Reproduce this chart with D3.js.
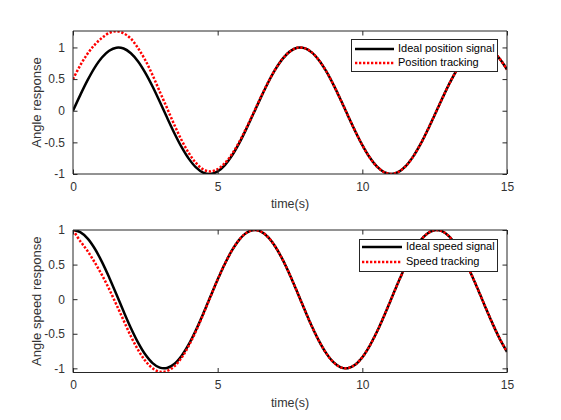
<!DOCTYPE html>
<html>
<head>
<meta charset="utf-8">
<script src="https://cdn.jsdelivr.net/npm/d3@7"></script>
<style>
html,body{margin:0;padding:0;background:#fff;}
svg{display:block;font-family:"Liberation Sans",Arial,sans-serif;}
</style>
</head>
<body>
<svg id="chart" width="561" height="420"></svg>
<script>
// time samples (s)
const time = [0,0.25,0.5,0.75,1,1.25,1.5,1.75,2,2.25,2.5,2.75,3,3.25,3.5,3.75,4,4.25,4.5,4.75,5,5.25,5.5,5.75,6,6.25,6.5,6.75,7,7.25,7.5,7.75,8,8.25,8.5,8.75,9,9.25,9.5,9.75,10,10.25,10.5,10.75,11,11.25,11.5,11.75,12,12.25,12.5,12.75,13,13.25,13.5,13.75,14,14.25,14.5,14.75,15];

// top panel: ideal position signal and position tracking
const idealPosition = [0,0.247,0.479,0.682,0.841,0.949,0.997,0.984,0.909,0.778,0.598,0.382,0.141,-0.108,-0.351,-0.572,-0.757,-0.895,-0.978,-0.999,-0.959,-0.859,-0.706,-0.509,-0.279,-0.033,0.215,0.450,0.657,0.823,0.938,0.995,0.989,0.922,0.798,0.625,0.412,0.174,-0.075,-0.319,-0.544,-0.736,-0.880,-0.970,-1.000,-0.967,-0.875,-0.729,-0.537,-0.311,-0.066,0.182,0.420,0.632,0.804,0.927,0.991,0.991,0.935,0.819,0.650];
const positionTracking = [0.50,0.717,0.899,1.042,1.151,1.229,1.257,1.224,1.139,0.988,0.798,0.562,0.301,0.042,-0.221,-0.462,-0.667,-0.825,-0.928,-0.959,-0.924,-0.829,-0.681,-0.489,-0.264,-0.023,0.223,0.455,0.660,0.823,0.938,0.995,0.989,0.922,0.798,0.625,0.412,0.174,-0.075,-0.319,-0.544,-0.736,-0.880,-0.970,-1.000,-0.967,-0.875,-0.729,-0.537,-0.311,-0.066,0.182,0.420,0.632,0.804,0.927,0.991,0.991,0.935,0.819,0.650];

// bottom panel: ideal speed signal and speed tracking
const idealSpeed = [1,0.969,0.878,0.732,0.540,0.315,0.071,-0.178,-0.416,-0.628,-0.801,-0.924,-0.990,-0.994,-0.936,-0.820,-0.654,-0.446,-0.211,0.038,0.284,0.512,0.709,0.861,0.960,0.999,0.977,0.893,0.754,0.568,0.347,0.103,-0.146,-0.388,-0.602,-0.780,-0.911,-0.985,-0.997,-0.948,-0.839,-0.677,-0.475,-0.243,0.004,0.252,0.484,0.684,0.844,0.950,0.998,0.983,0.907,0.775,0.595,0.376,0.137,-0.112,-0.353,-0.574,-0.760];
const speedTracking = [1.00,0.839,0.698,0.532,0.350,0.145,-0.079,-0.308,-0.536,-0.733,-0.891,-0.999,-1.050,-1.039,-0.971,-0.848,-0.674,-0.461,-0.221,0.033,0.284,0.512,0.709,0.861,0.960,0.999,0.977,0.893,0.754,0.568,0.347,0.103,-0.146,-0.388,-0.602,-0.780,-0.911,-0.985,-0.997,-0.948,-0.839,-0.677,-0.475,-0.243,0.004,0.252,0.484,0.684,0.844,0.950,0.998,0.983,0.907,0.775,0.595,0.376,0.137,-0.112,-0.353,-0.574,-0.760];

const xTicks = [0,5,10,15];
const yTicks = [-1,-0.5,0,0.5,1];
const yTickLabels = ["-1","-0.5","0","0.5","1"];

const panels = [
  {top:31, bottom:174, yDomain:[-1,1.26], ylabel:"Angle response",
   ideal:idealPosition, track:positionTracking,
   names:["Ideal position signal","Position tracking"],
   legend:{x:351, y:39, w:146, h:32, lineX0:355, lineX1:394, textX:398, rows:[49,63]}},
  {top:230, bottom:372.5, yDomain:[-1.06,1], ylabel:"Angle speed response",
   ideal:idealSpeed, track:speedTracking,
   names:["Ideal speed signal","Speed tracking"],
   legend:{x:359, y:239, w:138, h:32, lineX0:362, lineX1:402, textX:406, rows:[247,262]}}
];

const svg = d3.select("#chart");
const left = 73, right = 507;
const axisColor = "#262626";
const textColor = "#333";
const dash = "2.3,1.7";

panels.forEach((p, i) => {
  const x = d3.scaleLinear().domain([0,15]).range([left,right]);
  const y = d3.scaleLinear().domain(p.yDomain).range([p.bottom,p.top]);
  const g = svg.append("g");

  const clipId = "clip"+i;
  svg.append("clipPath").attr("id",clipId).append("rect")
    .attr("x",left).attr("y",p.top).attr("width",right-left).attr("height",p.bottom-p.top);

  const line = vals => d3.line().x((d,k)=>x(time[k])).y(d=>y(d)).curve(d3.curveCatmullRom)(vals);

  g.append("path").attr("d",line(p.ideal)).attr("fill","none")
    .attr("stroke","#000").attr("stroke-width",2.5).attr("clip-path",`url(#${clipId})`);
  g.append("path").attr("d",line(p.track)).attr("fill","none")
    .attr("stroke","#ff0000").attr("stroke-width",2.5).attr("stroke-dasharray",dash)
    .attr("clip-path",`url(#${clipId})`);

  // axes: bottom, left, top, right (ticks inward)
  const tl = 4.5;
  const axB = d3.axisBottom(x).tickValues(xTicks).tickSize(-tl).tickPadding(8).tickFormat(d3.format("d"));
  const axT = d3.axisTop(x).tickValues(xTicks).tickSize(-tl).tickFormat("");
  const axL = d3.axisLeft(y).tickValues(yTicks).tickSize(-tl).tickPadding(8).tickFormat((d,k)=>yTickLabels[k]);
  const axR = d3.axisRight(y).tickValues(yTicks).tickSize(-tl).tickFormat("");

  const styleAxis = sel => {
    sel.select(".domain").attr("stroke",axisColor).attr("stroke-width",1);
    sel.selectAll(".tick line").attr("stroke",axisColor).attr("stroke-width",1);
    sel.selectAll(".tick text").attr("fill",textColor).attr("font-size","12px")
      .attr("font-family","'Liberation Sans',Arial,sans-serif");
  };
  g.append("g").attr("transform",`translate(0,${p.bottom})`).call(axB).call(styleAxis)
    .selectAll(".domain").attr("d",`M${left},0H${right}`);
  g.append("g").attr("transform",`translate(0,${p.top})`).call(axT).call(styleAxis)
    .selectAll(".domain").attr("d",`M${left},0H${right}`);
  g.append("g").attr("transform",`translate(${left},0)`).call(axL).call(styleAxis)
    .selectAll(".domain").attr("d",`M0,${p.top}V${p.bottom}`);
  g.append("g").attr("transform",`translate(${right},0)`).call(axR).call(styleAxis)
    .selectAll(".domain").attr("d",`M0,${p.top}V${p.bottom}`);

  // axis labels
  g.append("text").attr("x",(left+right)/2).attr("y",p.bottom+31)
    .attr("text-anchor","middle").attr("dominant-baseline","middle")
    .attr("font-size","12.5px").attr("fill",textColor).text("time(s)");
  g.append("text")
    .attr("transform",`translate(38,${(p.top+p.bottom)/2}) rotate(-90)`)
    .attr("text-anchor","middle").attr("dominant-baseline","middle")
    .attr("font-size","13px").attr("fill",textColor).text(p.ylabel);

  // legend
  const L = p.legend;
  const lg = g.append("g");
  lg.append("rect").attr("x",L.x+0.5).attr("y",L.y+0.5).attr("width",L.w).attr("height",L.h)
    .attr("fill","#fff").attr("stroke","#262626").attr("stroke-width",1);
  const styles = [{c:"#000",d:null},{c:"#ff0000",d:dash}];
  p.names.forEach((name,k)=>{
    const ln = lg.append("line").attr("x1",L.lineX0).attr("x2",L.lineX1)
      .attr("y1",L.rows[k]).attr("y2",L.rows[k])
      .attr("stroke",styles[k].c).attr("stroke-width",2.5);
    if (styles[k].d) ln.attr("stroke-dasharray",styles[k].d);
    lg.append("text").attr("x",L.textX).attr("y",L.rows[k])
      .attr("dominant-baseline","middle").attr("font-size","11px").attr("fill","#000")
      .text(name);
  });
});
</script>
</body>
</html>
